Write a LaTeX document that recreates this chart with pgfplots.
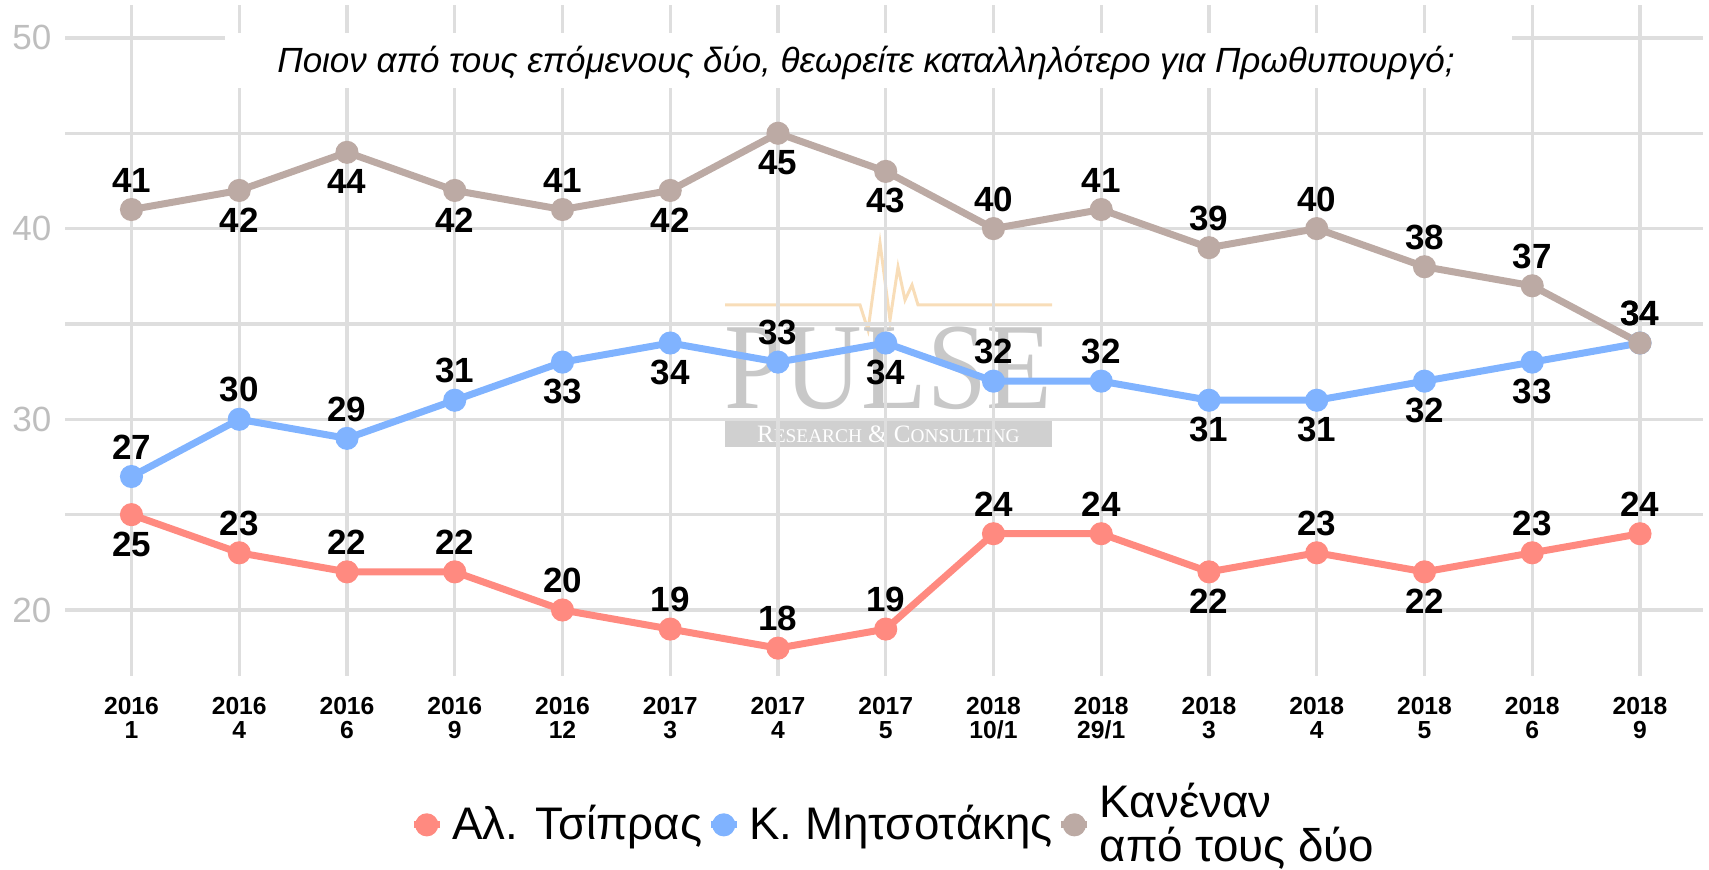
\documentclass[border=0pt]{standalone}
\usepackage{fontspec}
\setmainfont{Liberation Sans}
\newfontfamily\wmserif{Liberation Serif}
\usepackage{pgfplots}
\usepackage{pgfplotstable}
\pgfplotsset{compat=1.18}

\definecolor{tsip}{HTML}{FF8A80}
\definecolor{mits}{HTML}{80B3FF}
\definecolor{kan}{HTML}{BCAAA4}
\definecolor{gridc}{HTML}{DEDEDE}
\definecolor{ytickc}{HTML}{BEBEBE}
\definecolor{wmgray}{HTML}{C8C8C8}
\definecolor{wmorange}{HTML}{F8DDB8}

% x = poll index, y = value, o = label above (1) or below (-1)
\pgfplotstableread{
x y o
0 25 -1
1 23 1
2 22 1
3 22 1
4 20 1
5 19 1
6 18 1
7 19 1
8 24 1
9 24 1
10 22 -1
11 23 1
12 22 -1
13 23 1
14 24 1
}\tsipras
\pgfplotstableread{
x y o
0 27 1
1 30 1
2 29 1
3 31 1
4 33 -1
5 34 -1
6 33 1
7 34 -1
8 32 1
9 32 1
10 31 -1
11 31 -1
12 32 -1
13 33 -1
14 34 1
}\mitsotakis
\pgfplotstableread{
x y o
0 41 1
1 42 -1
2 44 -1
3 42 -1
4 41 1
5 42 -1
6 45 -1
7 43 -1
8 40 1
9 41 1
10 39 1
11 40 1
12 38 1
13 37 1
14 34 1
}\kanenan

\pgfplotsset{
  series/.style={color=#1, line width=2.1pt, mark=*, mark size=2.4pt,
    mark options={draw=none, fill=#1}},
  labels/.style={draw=none, mark=none, forget plot,
    point meta=explicit symbolic,
    visualization depends on={\thisrow{o} \as \off},
    nodes near coords,
    nodes near coords style={anchor=center, inner sep=0pt, text=black,
      font=\bfseries\fontsize{10.5}{12}\selectfont, yshift=\off*8.8pt}},
}

\begin{document}
\begin{tikzpicture}
\useasboundingbox (0,0) rectangle (512.7pt,261pt);

% watermark
\draw[wmorange, line width=0.9pt] (217.5pt,169.5pt) -- (258pt,169.5pt) -- (260.4pt,162pt)
  -- (264pt,188.1pt) -- (267pt,165pt) -- (269.4pt,180.9pt) -- (271.5pt,171pt)
  -- (273.6pt,175.5pt) -- (275.4pt,169.5pt) -- (315.6pt,169.5pt);
\node[wmgray, font=\wmserif\fontsize{37}{37}\selectfont, xscale=0.87, inner sep=0pt]
  at (266.5pt,150.6pt) {PULSE};
\fill[wmgray!85] (217.5pt,126.9pt) rectangle (315.6pt,135pt);
\node[white, font=\wmserif\fontsize{7.5}{7.5}\selectfont, inner sep=0pt] at (266.5pt,130.8pt)
  {R{\fontsize{5.8}{6}\selectfont ESEARCH} \& C{\fontsize{5.8}{6}\selectfont ONSULTING}};

\begin{axis}[
  at={(19.5pt,58.2pt)}, anchor=south west,
  scale only axis, width=491.4pt, height=201.15pt,
  xmin=-0.617, xmax=14.585, ymin=16.54, ymax=51.70,
  clip=false,
  axis line style={draw=none},
  major tick length=0pt, minor tick length=0pt,
  xtick={0,...,14},
  xticklabels={2016\\1,2016\\4,2016\\6,2016\\9,2016\\12,2017\\3,2017\\4,2017\\5,
    2018\\10/1,2018\\29/1,2018\\3,2018\\4,2018\\5,2018\\6,2018\\9},
  xticklabel style={font=\bfseries\fontsize{7.4}{7.2}\selectfont, align=center,
    anchor=north, inner sep=0pt, yshift=-6.3pt},
  ytick={20,30,40,50}, minor ytick={25,35,45},
  yticklabel style={font=\fontsize{10.5}{12}\selectfont, text=ytickc,
    anchor=east, inner sep=0pt, xshift=-3.9pt},
  /pgf/number format/assume math mode=true,
  xmajorgrids, ymajorgrids, yminorgrids,
  major grid style={draw=gridc, line width=1pt},
  minor grid style={draw=gridc, line width=1pt},
  legend columns=3,
  legend image code/.code={\draw[mark repeat=2, mark phase=2, #1]
    plot coordinates {(0pt,0pt) (3.9pt,0pt) (7.8pt,0pt)};},
  legend style={at={(0.505,-0.222)}, anchor=center, draw=none, fill=none,
    font=\fontsize{13.7}{13.2}\selectfont,
    nodes={inner sep=0pt},
    cells={anchor=west, align=left},
    /tikz/every odd column/.append style={column sep=2.7pt},
    /tikz/every even column/.append style={column sep=1.5pt}},
]
\addplot[series=tsip] table[x=x, y=y] {\tsipras};
\addplot[series=mits] table[x=x, y=y] {\mitsotakis};
\addplot[series=kan] table[x=x, y=y] {\kanenan};
\legend{Αλ. Τσίπρας, Κ. Μητσοτάκης, Κανέναν\\από τους δύο}

\addplot[labels] table[x=x, y=y, meta=y] {\tsipras};
\addplot[labels] table[x=x, y=y, meta=y] {\mitsotakis};
\addplot[labels] table[x=x, y=y, meta=y] {\kanenan};
\end{axis}

% title over a white box
\fill[white] (67.5pt,234.6pt) rectangle (453.6pt,251.1pt);
\node[font=\itshape\fontsize{10.5}{12}\selectfont, inner sep=0pt] at (259.8pt,242.1pt)
  {Ποιον από τους επόμενους δύο, θεωρείτε καταλληλότερο για Πρωθυπουργό;};
\end{tikzpicture}
\end{document}
